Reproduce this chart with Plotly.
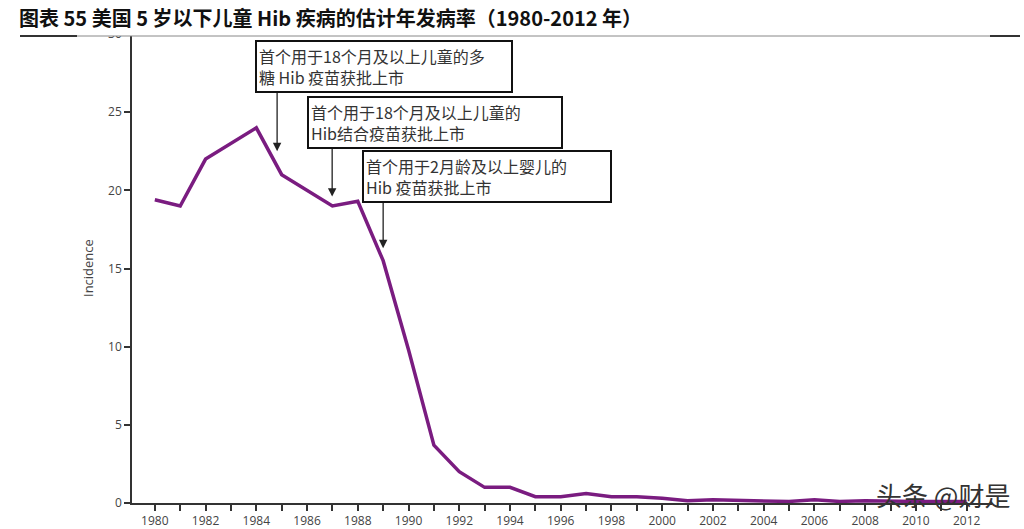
import plotly.graph_objects as go

years = list(range(1980, 2013))
incidence = [19.4, 19.0, 22.0, 23.0, 24.0, 21.0, 20.0, 19.0, 19.3, 15.5,
             9.8, 3.7, 2.0, 1.0, 1.0, 0.4, 0.4, 0.6, 0.4, 0.4,
             0.3, 0.15, 0.2, 0.15, 0.1, 0.1, 0.2, 0.1, 0.15, 0.1,
             0.1, 0.1, 0.1]

y_ticks = [0, 5, 10, 15, 20, 25, 30]
x_tick_labels = [str(y) if y % 2 == 0 else "" for y in years]

title_text = "图表 55 美国 5 岁以下儿童 Hib 疾病的估计年发病率（1980-2012 年）"
notes = [
    "首个用于18个月及以上儿童的多<br>糖 Hib 疫苗获批上市",
    "首个用于18个月及以上儿童的<br>Hib结合疫苗获批上市",
    "首个用于2月龄及以上婴儿的<br>Hib 疫苗获批上市",
]
note_pos = [(1983.96, 29.62, 250), (1986.01, 26.04, 248), (1988.18, 22.58, 242)]
arrows = [((1984.82, 26.55), (1984.82, 22.5)),
          ((1986.99, 22.84), (1986.99, 19.6)),
          ((1989.0, 19.39), (1989.0, 16.3))]

W, H = 1024, 529
l, r, t, b = 132, 32, 34, 26
PW, PH = W - l - r, H - t - b


def px(x):
    return (x - l) / PW


def py(y):
    return (H - b - y) / PH


fig = go.Figure()
fig.add_trace(go.Scatter(x=years, y=incidence, mode="lines",
                         line=dict(color="#7a1c80", width=3.5),
                         hoverinfo="skip", showlegend=False))

annotations = []
for (tail, head) in arrows:
    annotations.append(dict(x=head[0], y=head[1], ax=tail[0], ay=tail[1],
                            xref="x", yref="y", axref="x", ayref="y",
                            text="", showarrow=True, arrowhead=2, arrowsize=1.3,
                            arrowwidth=1.3, arrowcolor="#222"))
for txt, (x0, y0, w) in zip(notes, note_pos):
    annotations.append(dict(x=x0, y=y0, xref="x", yref="y", xanchor="left", yanchor="top",
                            text=txt, showarrow=False, align="left", width=w,
                            font=dict(family="Noto Sans CJK SC", size=16, color="#333"),
                            bgcolor="white", bordercolor="#111", borderwidth=2, borderpad=2))
annotations.append(dict(x=px(17), y=py(17), xref="paper", yref="paper", xanchor="left",
                        yanchor="middle", text="<b>" + title_text + "</b>",
                        showarrow=False,
                        font=dict(family="Noto Sans CJK SC", size=20, color="#111")))
annotations.append(dict(x=px(88), y=py(268), xref="paper", yref="paper", xanchor="center",
                        yanchor="middle", text="Incidence", textangle=-90, showarrow=False,
                        font=dict(family="Open Sans", size=13, color="#444")))
annotations.append(dict(x=px(1012), y=py(494), xref="paper", yref="paper", xanchor="right",
                        yanchor="middle", text="头条 @财是", showarrow=False,
                        font=dict(family="Noto Sans CJK SC", size=26, color="#333")))

shapes = [
    dict(type="rect", xref="paper", yref="paper", x0=px(0), x1=px(W),
         y0=py(36), y1=py(0), fillcolor="white", line=dict(width=0), layer="above"),
    dict(type="line", xref="paper", yref="paper", x0=px(20), x1=px(1020),
         y0=py(36), y1=py(36), line=dict(color="#888", width=1), layer="above"),
    dict(type="line", xref="paper", yref="paper", x0=px(20), x1=px(77),
         y0=py(36), y1=py(36), line=dict(color="#333", width=2), layer="above"),
    dict(type="line", xref="paper", yref="paper", x0=px(990), x1=px(1020),
         y0=py(36), y1=py(36), line=dict(color="#333", width=2), layer="above"),
]

fig.update_layout(
    width=W, height=H, margin=dict(l=l, r=r, t=t, b=b, autoexpand=False),
    paper_bgcolor="white", plot_bgcolor="white",
    annotations=annotations, shapes=shapes,
    xaxis=dict(range=[1979.1, 2013], tickvals=years, ticktext=x_tick_labels,
               ticks="outside", ticklen=6, tickwidth=1.5, tickcolor="#333",
               showline=True, linecolor="#333", linewidth=1.5, showgrid=False,
               zeroline=False, tickangle=0, automargin=False,
               tickfont=dict(family="Open Sans", size=12, color="#444")),
    yaxis=dict(range=[0, 30], tickvals=y_ticks, ticks="outside", ticklen=6,
               tickwidth=1.5, tickcolor="#333", showline=True, linecolor="#333",
               linewidth=1.5, showgrid=False, zeroline=False, automargin=False,
               tickfont=dict(family="Open Sans", size=12, color="#444")),
)

fig.write_html("out.html", config={"displayModeBar": False},
               post_script="document.body.style.margin='0';document.body.style.overflow='hidden';")
